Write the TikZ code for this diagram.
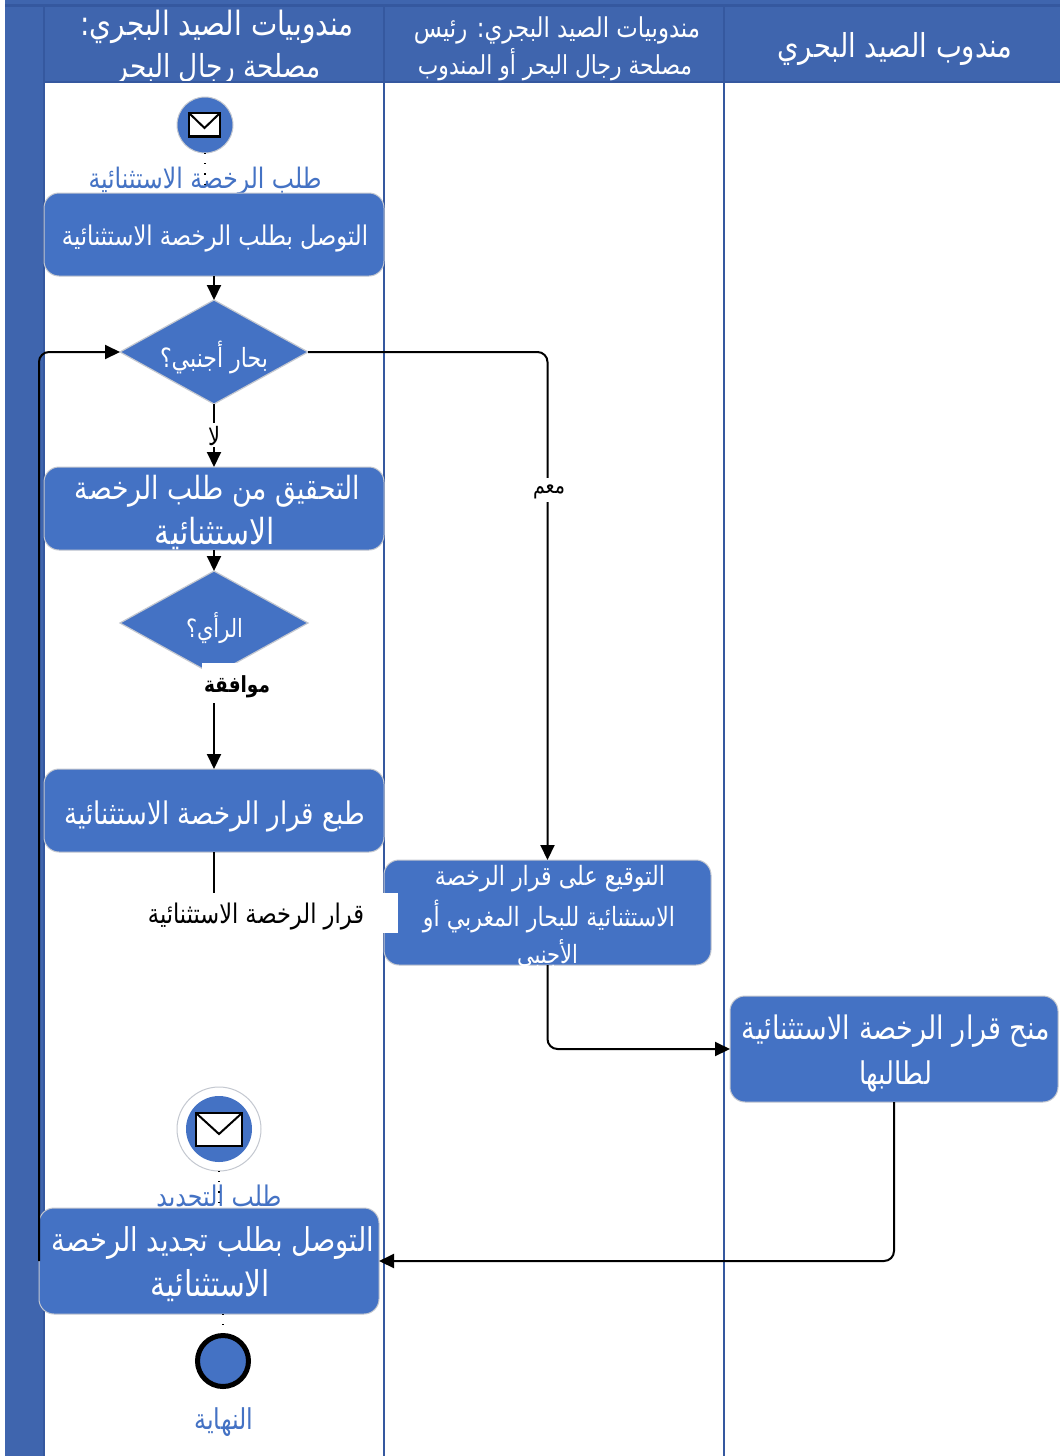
\documentclass[tikz,border=0pt]{standalone}
\usepackage{graphicx}
\usepackage{fontspec}
\usetikzlibrary{arrows.meta,shapes.geometric}
\TeXXeTstate=1
\newfontfamily\arabicfont[Script=Arabic]{DejaVu Sans}
\newfontfamily\arabicbold[Script=Arabic]{DejaVu Sans Bold}
\newcommand{\artext}[2]{\scalebox{1}[1.2]{\resizebox{#1pt}{!}{\arabicfont #2}}}
\newcommand{\artextb}[2]{\scalebox{1}[1.2]{\resizebox{#1pt}{!}{\arabicbold #2}}}
\definecolor{head}{HTML}{3F65AE}
\definecolor{lanedark}{HTML}{35589F}
\definecolor{boxblue}{HTML}{4472C4}
\definecolor{edgegray}{HTML}{C4C8D0}
\tikzset{
  txt/.style={inner sep=0pt,outer sep=0pt,text=white,yshift=-2pt},
  labeltxt/.style={inner sep=0pt,outer sep=0pt,text=boxblue,yshift=-2pt},
  blacktxt/.style={inner sep=0pt,outer sep=0pt,text=black,yshift=-2pt},
  taskbox/.style={draw=edgegray,line width=1pt,fill=boxblue,rounded corners=15pt,inner sep=0pt,outer sep=0pt},
  decision/.style={diamond,draw=edgegray,line width=1.2pt,fill=boxblue,inner sep=0pt,outer sep=0pt,aspect=1.8},
  startev/.style={circle,draw=edgegray,line width=1pt,fill=boxblue,inner sep=0pt,outer sep=0pt},
  conn/.style={draw=black,line width=2pt,-{Triangle[length=15pt,width=14pt]}},
  plainconn/.style={draw=black,line width=2pt},
  dots/.style={draw=black,line width=1.2pt,dash pattern=on 1.2pt off 9pt},
  lane/.style={draw=lanedark,line width=2.5pt},
  envelope/.style={draw=black,line width=2.5pt,fill=white}
}
\begin{document}
\begin{tikzpicture}[x=1pt,y=-1pt]
\useasboundingbox (0,0) rectangle (1060,1456);
% pool
\fill[white] (0,0) rectangle (1060,1456);
\fill[head] (5,0) rectangle (1060,82);
\fill[head] (5,0) rectangle (44,1456);
% header texts
\node[txt] (h1a) at (217,25) {\artext{273}{\beginR مندوبيات الصيد البجري:\endR}};
\node[txt] (h1b) at (218,67) {\artext{205}{\beginR مصلحة رجال البحر\endR}};
\node[txt] (h2a) at (557,28) {\artext{286}{\beginR مندوبيات الصيد البجري: رئيس\endR}};
\node[txt] (h2b) at (555,63) {\artext{274}{\beginR مصلحة رجال البحر أو المندوب\endR}};
\node[txt] (h3) at (895,47) {\artext{235}{\beginR مندوب الصيد البحري\endR}};
\fill[white] (44,82) rectangle (1060,1456);
% lane lines
\draw[lane] (5,5.5) -- (1060,5.5);
\draw[lane,line width=1.5pt] (44,82) -- (1060,82);
\draw[lane] (44,5) -- (44,1456);
\draw[lane] (384,5) -- (384,1456);
\draw[lane] (724,5) -- (724,1456);
% event labels (the boxes drawn later cover their lower edges)
\node[labeltxt] (l1) at (205,179) {\artext{233}{\beginR طلب الرخصة الاستثنائية\endR}};
\node[labeltxt] (l2) at (219,1196) {\artext{125}{\beginR طلب التجديد\endR}};
\node[labeltxt] (l3) at (224,1420) {\artext{59}{\beginR النهاية\endR}};
% events
\node[startev,minimum size=56pt] (s1) at (205,125) {};
\draw[envelope] (189,113) rectangle (220,136.5);
\draw[black,line width=2pt] (189,113) -- (204.5,128) -- (220,113);
\node[startev,minimum size=84pt,fill=white] (s2) at (219,1129) {};
\node[startev,minimum size=66pt,draw=none] (s2i) at (219,1129) {};
\draw[envelope] (196,1113) rectangle (242,1146);
\draw[black,line width=2pt] (196,1113) -- (219,1134) -- (242,1113);
\node[circle,draw=black,line width=5pt,fill=boxblue,minimum size=51pt,inner sep=0pt,outer sep=0pt] (e1) at (223,1361) {};
% tasks
\node[taskbox,minimum width=340pt,minimum height=83pt] (b1) at (214,234.5) {};
\node[txt] (b1t) at (215,237) {\artext{306}{\beginR التوصل بطلب الرخصة الاستثنائية\endR}};
\node[decision,minimum width=188pt,minimum height=104pt] (d1) at (214,352) {};
\node[txt] (d1t) at (214,356) {\artext{108}{\beginR بحار أجنبي؟\endR}};
\node[taskbox,minimum width=340pt,minimum height=83pt] (b2) at (214,508.5) {};
\node[txt] (b2a) at (217.5,489) {\artext{285}{\beginR التحقيق من طلب الرخصة\endR}};
\node[txt] (b2b) at (215,531) {\artext{120}{\beginR الاستثنائية\endR}};
\node[decision,minimum width=188pt,minimum height=104pt] (d2) at (214,623) {};
\node[txt] (d2t) at (214.5,626) {\artext{57}{\beginR الرأي؟\endR}};
\node[taskbox,minimum width=340pt,minimum height=83pt] (b3) at (214,810.5) {};
\node[txt] (b3t) at (215,814) {\artext{300}{\beginR طبع قرار الرخصة الاستثنائية\endR}};
\node[taskbox,minimum width=327pt,minimum height=105pt] (b4) at (547.5,912.5) {};
\node[txt] (b4a) at (550,877) {\artext{230}{\beginR التوقيع على قرار الرخصة\endR}};
\node[txt] (b4b) at (549,914) {\artext{252}{\beginR الاستثنائية للبحار المغربي أو\endR}};
\begin{scope}
\clip (384,860) rectangle (711,965);
\node[txt] (b4c) at (547.5,953) {\artext{61}{\beginR الأجنبي\endR}};
\end{scope}
\node[taskbox,minimum width=328pt,minimum height=106pt] (b5) at (894,1049) {};
\node[txt] (b5a) at (896,1029) {\artext{308}{\beginR منح قرار الرخصة الاستثنائية\endR}};
\node[txt] (b5b) at (895.5,1074) {\artext{73}{\beginR لطالبها\endR}};
\node[taskbox,minimum width=340pt,minimum height=106pt] (b6) at (209,1261) {};
\node[txt] (b6a) at (213,1241) {\artext{322}{\beginR التوصل بطلب تجديد الرخصة\endR}};
\node[txt] (b6b) at (210.5,1284) {\artext{119}{\beginR الاستثنائية\endR}};
% connectors
\draw[dots] (s1.south) -- (s1.south |- b1.north);
\draw[dots] (s2.south) -- (s2.south |- b6.north);
\draw[dots] (e1.north |- b6.south) -- (e1.north);
\draw[conn] (b1.south) -- (d1.north);
\draw[conn] (d1.south) -- (b2.north);
\draw[conn] (b2.south) -- (d2.north);
\draw[conn] (d2.south) -- (b3.north);
\draw[conn,rounded corners=10pt] (d1.east) -| (b4.north);
\draw[conn,rounded corners=10pt] (b4.south) |- (b5.west);
\draw[conn,rounded corners=10pt] (b5.south) |- (b6.east);
\draw[conn,rounded corners=10pt] (b6.west) |- (d1.west);
% connector labels
\node[fill=white,inner sep=0pt,minimum width=14pt,minimum height=24pt] (lno) at (214,435) {};
\node[blacktxt] (lnot) at (214,434) {\artext{12}{\beginR لا\endR}};
\node[fill=white,inner sep=0pt,minimum width=34pt,minimum height=24pt] (lyes) at (549,490) {};
\node[blacktxt] (lyest) at (549,490) {\artext{32}{\beginR معم\endR}};
\node[fill=white,inner sep=0pt,minimum width=68pt,minimum height=40pt] (lok) at (236,683) {};
\node[blacktxt] (lokt) at (237,685) {\artextb{66}{\beginR موافقة\endR}};
\node[fill=white,inner sep=0pt,minimum width=262pt,minimum height=40pt] (lq) at (267,913) {};
\draw[plainconn] (b3.south) -- (b3.south |- lq.north);
\node[blacktxt] (lqt) at (256,915) {\artext{216}{\beginR قرار الرخصة الاستثنائية\endR}};
\end{tikzpicture}
\end{document}
